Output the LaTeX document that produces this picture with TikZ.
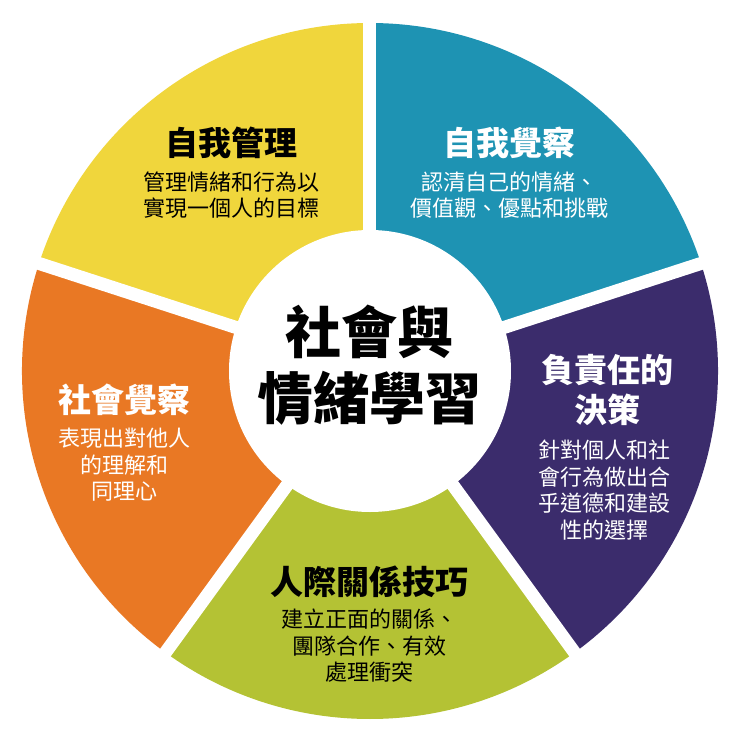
\documentclass[tikz,border=0pt]{standalone}
\usepackage{fontspec}
\setmainfont{Noto Sans CJK TC}
\definecolor{cy}{HTML}{F0D63C}
\definecolor{ct}{HTML}{1E93B3}
\definecolor{cp}{HTML}{3B2C6C}
\definecolor{cg}{HTML}{B4C234}
\definecolor{co}{HTML}{E97824}
\begin{document}
\begin{tikzpicture}[x=1pt,y=1pt,
  ttl/.style={font=\bfseries\fontsize{33}{40}\selectfont,align=center},
  dsc/.style={font=\fontsize{22}{26.5}\selectfont,align=center},
  sep/.style={white,line width=13pt}]
\useasboundingbox (-370,-361) rectangle (370,371);
\fill[white] (-370,-361) rectangle (370,371);
\def\R{348}\def\r{135}
\foreach \a/\b/\c in {90/162/cy,18/90/ct,-54/18/cp,-126/-54/cg,162/234/co}{
  \fill[\c] (\a:\R) arc[start angle=\a,end angle=\b,radius=\R] -- (\b:\r) arc[start angle=\b,end angle=\a,radius=\r] -- cycle;}
\foreach \a in {90,18,-54,-126,162}{\draw[sep] (0,0) -- (\a:360);}
\fill[white] (0,0) circle (\r+6);
\node[font=\bfseries\fontsize{56}{66}\selectfont,align=center] (c) at (0,6) {社會與\\情緒學習};
\node[ttl] (t1) at (-138,228) {自我管理};
\node[dsc] (d1) at (-138,176) {管理情緒和行為以\\實現一個人的目標};
\node[ttl,white] (t2) at (140,228) {自我覺察};
\node[dsc,white] (d2) at (140,176) {認清自己的情緒、\\價值觀、優點和挑戰};
\node[ttl,white] (t3) at (238,-19) {負責任的\\決策};
\node[dsc,white] (d3) at (235,-119) {針對個人和社\\會行為做出合\\乎道德和建設\\性的選擇};
\node[ttl,white] (t4) at (-245,-29) {社會覺察};
\node[dsc,white] (d4) at (-245,-94) {表現出對他人\\的理解和\\同理心};
\node[ttl] (t5) at (0,-211) {人際關係技巧};
\node[dsc] (d5) at (0,-275) {建立正面的關係、\\團隊合作、有效\\處理衝突};
\end{tikzpicture}
\end{document}
